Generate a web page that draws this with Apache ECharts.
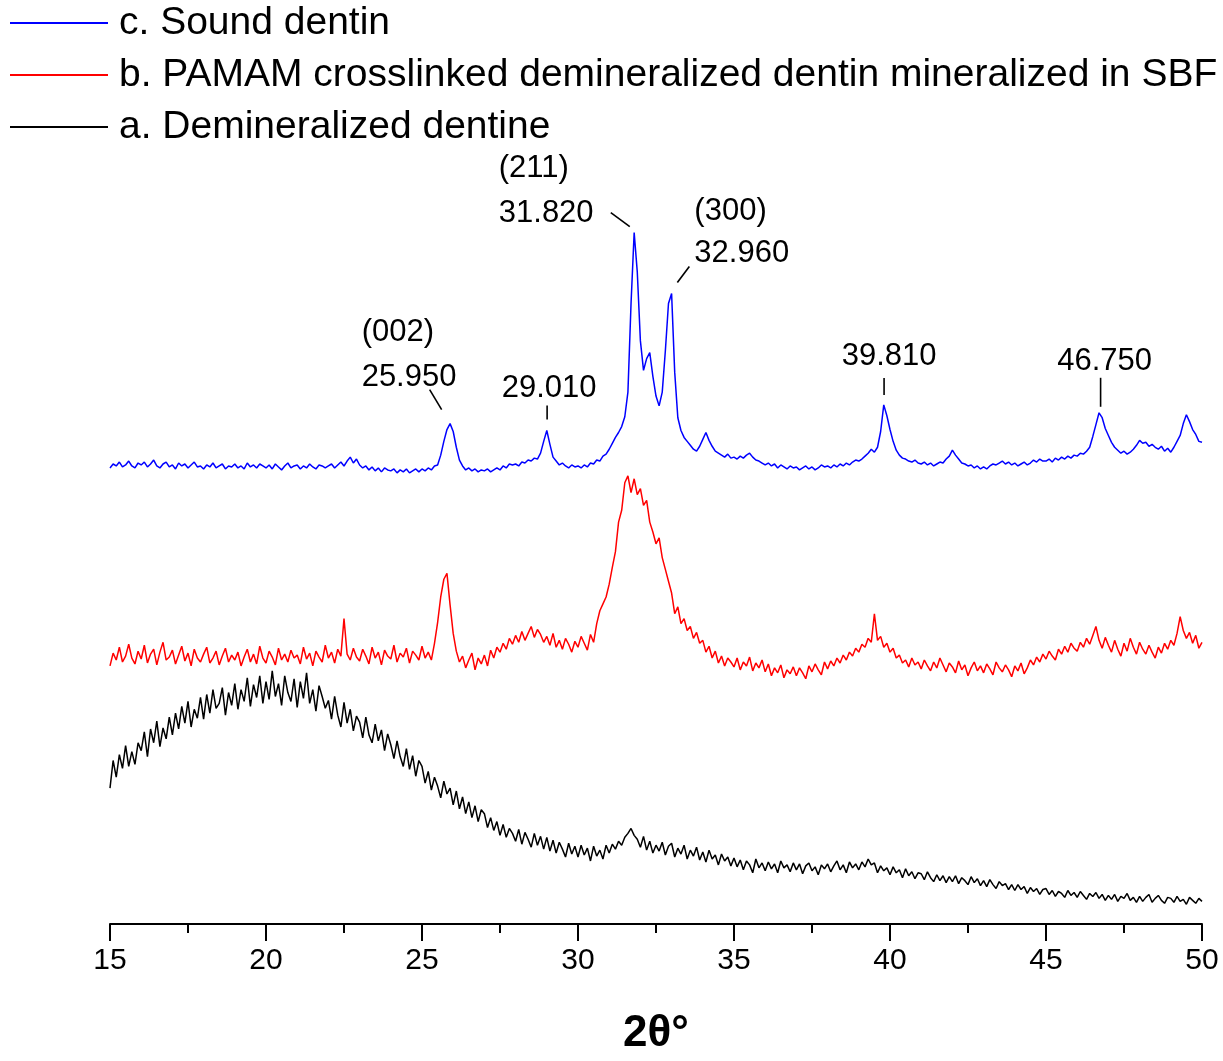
<!DOCTYPE html>
<html><head><meta charset="utf-8">
<script src="https://cdn.jsdelivr.net/npm/echarts@6/dist/echarts.min.js"></script>
<style>html,body{margin:0;padding:0;background:#fff}#c{width:1223px;height:1061px}</style>
</head><body><div id="c"></div>
<script>
// 2θ sampling grid: 15.0 .. 50.0 every 0.1 degree
const thetaStart = 15, thetaStep = 0.1;
const seriesNames = ['c. Sound dentin', 'b. PAMAM crosslinked demineralized dentin mineralized in SBF', 'a. Demineralized dentine'];

// c. Sound dentin (stacked intensity, arbitrary units)
const soundDentin = [
463,467,465,469,464,466,470,465,463,468,
466,469,464,467,471,465,463,467,469,464,
466,462,468,465,467,463,466,469,464,465,
462,466,464,468,463,465,467,462,465,464,
467,463,465,462,468,464,466,463,467,465,
463,466,462,467,464,461,465,468,463,465,
466,462,465,463,467,464,462,466,465,463,
465,467,463,466,469,465,470,474,468,472,
466,463,465,461,464,460,463,459,463,461,
460,462,458,461,459,462,458,460,462,459,
462,460,463,461,465,466,476,490,502,508,
500,484,471,465,461,463,460,462,459,461,
460,462,459,461,463,461,465,463,467,466,
467,465,469,468,471,470,473,472,478,490,
501,487,474,470,466,468,465,463,466,464,
465,463,466,464,468,467,471,470,475,477,
482,488,494,499,505,515,540,630,702,662,
592,562,574,580,556,536,526,540,582,630,
640,560,514,501,494,490,486,482,480,485,
492,499,491,485,480,478,476,474,477,473,
474,472,475,473,476,478,474,471,470,468,
466,468,465,467,463,466,464,462,465,463,
464,461,463,465,462,464,461,463,466,464,
465,463,466,464,467,465,468,466,469,471,
470,472,475,478,482,479,484,500,527,516,
502,490,481,476,473,472,470,469,471,468,
467,469,466,468,465,467,469,468,472,475,
481,476,472,468,467,465,466,463,465,462,
464,462,465,467,466,468,470,467,469,466,
468,465,467,469,466,468,471,469,472,470,
470,472,469,473,471,474,472,475,473,476,
475,478,477,480,484,495,507,519,514,503,
496,489,484,481,478,480,477,479,482,486,
491,488,489,485,487,484,482,485,480,483,
479,484,490,496,508,517,510,502,497,490,
489];

// b. PAMAM crosslinked demineralized dentin mineralized in SBF
const pamamSBF = [
262,275,268,281,266,272,284,270,264,277,
269,283,265,274,279,263,276,286,268,271,
278,264,273,282,267,275,262,279,270,266,
274,281,265,270,277,263,272,280,266,273,
268,276,262,271,279,266,274,264,282,270,
265,277,271,263,280,268,274,266,278,270,
273,264,281,269,275,262,277,271,266,283,
270,276,265,279,272,310,274,268,280,271,
267,279,272,264,281,270,276,263,278,272,
269,283,266,275,271,280,265,277,273,268,
282,270,276,268,285,306,332,350,356,324,
295,277,266,272,260,268,275,258,270,264,
273,262,278,270,281,276,285,279,290,284,
293,286,297,288,295,302,291,299,294,286,
292,283,295,281,288,279,290,284,276,287,
281,292,285,278,294,286,305,318,325,332,
345,362,378,408,420,448,455,438,452,436,
442,425,430,408,398,386,392,372,360,348,
336,315,322,305,310,298,302,290,296,285,
288,276,282,270,277,265,272,262,270,266,
261,270,258,266,262,271,257,265,260,268,
256,264,252,260,255,263,250,258,254,261,
252,260,255,249,262,256,264,258,253,266,
259,267,262,270,265,273,268,276,272,280,
276,284,281,290,286,315,288,292,281,285,
276,280,270,273,265,268,261,270,263,266,
259,268,262,257,266,260,270,263,256,265,
261,255,267,258,263,252,260,266,257,262,
255,264,259,253,266,260,256,263,258,251,
262,257,265,254,260,268,263,271,266,274,
269,277,272,268,279,274,282,276,285,280,
277,286,281,290,284,293,302,288,280,291,
283,276,288,279,272,285,277,290,281,274,
286,279,274,283,276,270,281,275,285,279,
288,283,295,312,298,290,296,285,293,280,
286];

// a. Demineralized dentine
const demineralized = [
138,166,149,172,158,181,160,175,162,184,
176,195,170,198,184,206,180,199,188,210,
192,214,198,221,204,226,200,218,209,230,
208,233,214,238,219,224,240,212,235,222,
244,218,238,226,250,221,243,230,252,224,
246,228,257,231,244,222,252,235,226,249,
220,246,229,255,224,238,216,242,231,219,
227,208,231,212,200,225,204,218,196,211,
205,189,210,192,184,203,186,197,176,193,
182,168,186,170,160,178,157,171,150,166,
160,143,155,136,149,140,128,145,132,138,
121,135,117,129,112,124,108,120,104,116,
112,98,108,95,104,90,101,88,97,92,
84,96,81,93,86,78,92,80,89,76,
88,74,85,72,83,76,68,82,71,79,
68,80,70,77,64,79,69,75,66,80,
72,81,76,84,80,88,92,97,90,86,
78,89,75,84,72,80,74,83,70,79,
82,68,77,71,80,66,75,69,78,65,
73,63,75,66,70,60,71,64,68,59,
67,58,65,55,64,60,52,66,57,62,
54,63,56,61,52,64,57,60,53,62,
55,61,51,59,62,54,58,50,60,56,
61,53,59,64,55,60,52,63,57,61,
55,63,58,66,60,62,52,59,54,57,
50,58,52,55,47,56,49,53,46,52,
51,45,53,47,43,50,44,49,42,48,
43,49,41,47,44,40,48,42,46,39,
44,38,45,40,36,43,39,41,35,40,
34,40,35,38,31,37,33,36,30,35,
36,30,34,28,33,31,27,34,29,32,
27,33,29,25,31,28,32,26,30,24,
29,25,30,23,28,26,31,24,27,22,
28,23,27,30,22,26,29,24,21,27,
26,22,28,23,25,20,27,24,21,26,
23];

const xTickValues = [15, 20, 25, 30, 35, 40, 45, 50];
const peakPositions = [25.95, 29.01, 31.82, 32.96, 39.81, 46.75];
const peakLabels = ['25.950', '29.010', '31.820', '32.960', '39.810', '46.750'];
const peakPlanes = ['(002)', '', '(211)', '(300)', '', ''];

// layout of annotation texts / leader lines relative to each peak (pixels)
const annLayout = [
  {tx: -90, ty: -46, align: 'left', hy: -91, ln: [-10, -14, -22, -34]},
  {tx: 2, ty: -42, align: 'center', hy: 0, ln: [0, -11, 0, -25]},
  {tx: -136, ty: -19, align: 'left', hy: -64, ln: [-5, -6, -24, -20]},
  {tx: 24, ty: -40, align: 'left', hy: -82, ln: [7, -11, 19, -27]},
  {tx: 5, ty: -48, align: 'center', hy: 0, ln: [0, -10, 0, -27]},
  {tx: 4, ty: -51, align: 'center', hy: 0, ln: [0, -6, 0, -35]}
];

const FONT = '"Liberation Sans", Arial, Helvetica, sans-serif';
function pairs(vals) {
  return vals.map((v, i) => [+(thetaStart + i * thetaStep).toFixed(2), v]);
}
const colors = ['#0000ff', '#ff0000', '#000000'];
const dataSets = [soundDentin, pamamSBF, demineralized];

const chart = echarts.init(document.getElementById('c'), null, {renderer: 'canvas'});
chart.setOption({
  animation: false,
  backgroundColor: '#fff',
  grid: {left: 110, right: 21, top: 136, bottom: 125, containLabel: false},
  legend: {
    orient: 'vertical', left: 10, top: 2, padding: 0,
    itemWidth: 98, itemHeight: 2, itemGap: 10, icon: 'rect',
    data: seriesNames,
    textStyle: {fontSize: 39, fontFamily: FONT, color: '#000', lineHeight: 42, padding: [0, 0, 0, 6]}
  },
  xAxis: {
    type: 'value', min: 15, max: 50, interval: 5,
    axisLine: {show: true, onZero: false, lineStyle: {color: '#000', width: 2}},
    axisTick: {show: true, inside: false, length: 17, lineStyle: {color: '#000', width: 2}},
    minorTick: {show: true, splitNumber: 2, length: 9, lineStyle: {color: '#000', width: 2}},
    splitLine: {show: false}, minorSplitLine: {show: false},
    axisLabel: {fontSize: 30, color: '#000', fontFamily: FONT, margin: 22,
      formatter: v => xTickValues.indexOf(v) >= 0 ? String(v) : ''},
    name: '2θ°', nameLocation: 'middle', nameGap: 88,
    nameTextStyle: {fontSize: 44, fontWeight: 'bold', color: '#000', fontFamily: FONT}
  },
  yAxis: {type: 'value', min: 0, max: 800, show: false},
  series: [2, 1, 0].map(k => ({
    name: seriesNames[k], type: 'line', data: pairs(dataSets[k]),
    showSymbol: false, symbol: 'none', sampling: null,
    lineStyle: {color: colors[k], width: 1.5}, itemStyle: {color: colors[k]},
    z: 3 - k
  }))
});

// annotations placed from peak data through the chart's own scales
const elements = [];
peakPositions.forEach((px, i) => {
  let peak = -Infinity;
  soundDentin.forEach((v, j) => {
    const x = thetaStart + j * thetaStep;
    if (Math.abs(x - px) <= 0.1 + 1e-9) peak = Math.max(peak, v);
  });
  const p = chart.convertToPixel({xAxisIndex: 0, yAxisIndex: 0}, [px, peak]);
  const L = annLayout[i];
  elements.push({type: 'line', silent: true,
    shape: {x1: p[0] + L.ln[0], y1: p[1] + L.ln[1], x2: p[0] + L.ln[2], y2: p[1] + L.ln[3]},
    style: {stroke: '#000', lineWidth: 1.6}});
  elements.push({type: 'text', silent: true,
    style: {text: peakLabels[i], x: p[0] + L.tx, y: p[1] + L.ty, font: '31px ' + FONT, fill: '#000',
      textAlign: L.align, align: L.align, textVerticalAlign: 'middle', verticalAlign: 'middle'}});
  if (peakPlanes[i]) {
    elements.push({type: 'text', silent: true,
      style: {text: peakPlanes[i], x: p[0] + L.tx, y: p[1] + L.hy, font: '31px ' + FONT, fill: '#000',
        textAlign: L.align, align: L.align, textVerticalAlign: 'middle', verticalAlign: 'middle'}});
  }
});
chart.setOption({graphic: {elements: elements}});
</script></body></html>
